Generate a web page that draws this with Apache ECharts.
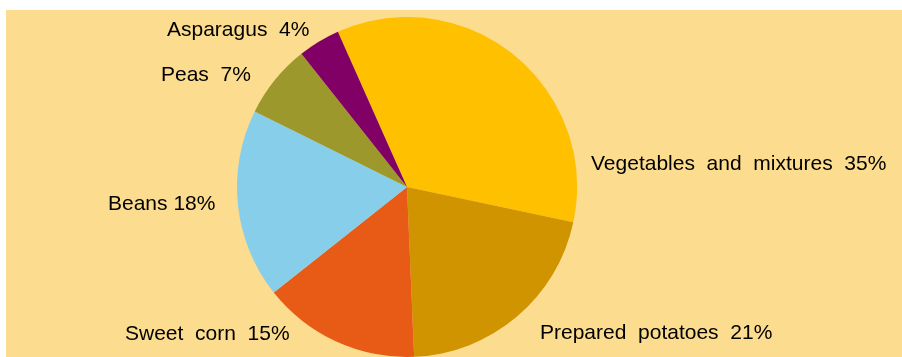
<!DOCTYPE html>
<html>
<head>
<meta charset="utf-8">
<script src="https://cdn.jsdelivr.net/npm/echarts@6/dist/echarts.min.js"></script>
<style>
  html, body { margin: 0; padding: 0; background: #ffffff; }
  #chart { width: 902px; height: 357px; }
</style>
</head>
<body>
<div id="chart"></div>
<script>
// Share of frozen vegetable categories (percent), listed clockwise
const categories = ['Vegetables  and  mixtures', 'Prepared  potatoes', 'Sweet  corn', 'Beans', 'Peas', 'Asparagus'];
const shares = [35, 21, 15, 18, 7, 4];
const sliceColors = ['#FFC000', '#D09400', '#E75B17', '#87CEEB', '#9C982B', '#800066'];
const labelSeparators = ['  ', '  ', '  ', ' ', '  ', '  '];

// Label anchor points (left edge, vertical middle) for each slice
const labelAnchors = [
  [591, 164],
  [540, 333],
  [125, 334],
  [108, 204],
  [161, 75],
  [167, 30]
];

const chart = echarts.init(document.getElementById('chart'), null, { renderer: 'canvas' });

chart.setOption({
  backgroundColor: '#ffffff',
  animation: false,
  graphic: [{
    type: 'rect',
    shape: { x: 6, y: 10, width: 896, height: 347 },
    style: { fill: '#FCDC8E' },
    z: -10
  }],
  series: [{
    type: 'pie',
    center: [407, 187],
    radius: 170,
    startAngle: 114,
    clockwise: true,
    avoidLabelOverlap: false,
    data: categories.map((name, i) => ({
      name: name,
      value: shares[i],
      itemStyle: { color: sliceColors[i] }
    })),
    label: {
      show: true,
      position: 'outside',
      formatter: p => p.name + labelSeparators[p.dataIndex] + p.value + '%',
      fontFamily: '"Liberation Sans", Arial, sans-serif',
      fontSize: 21,
      color: '#000000'
    },
    labelLine: { show: false },
    labelLayout: params => ({
      x: labelAnchors[params.dataIndex][0],
      y: labelAnchors[params.dataIndex][1],
      align: 'left',
      verticalAlign: 'middle'
    }),
    emphasis: { disabled: true }
  }]
});
</script>
</body>
</html>
